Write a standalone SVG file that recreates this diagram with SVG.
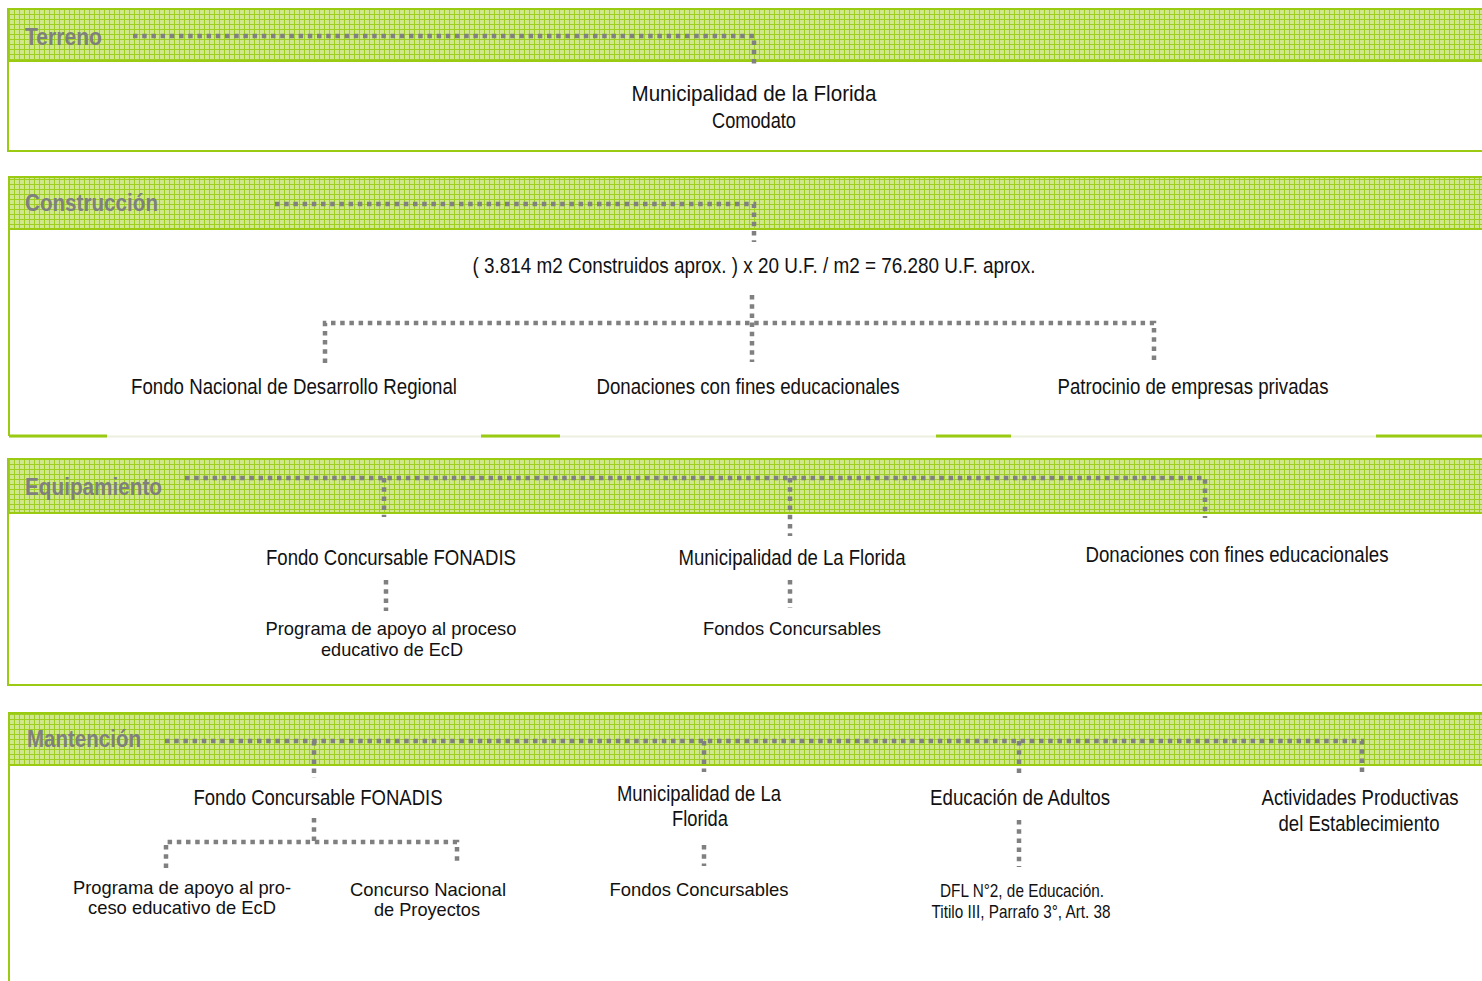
<svg xmlns="http://www.w3.org/2000/svg" width="1482" height="981" viewBox="0 0 1482 981">
<defs>
<pattern id="grid" width="5" height="5" patternUnits="userSpaceOnUse">
<rect width="5" height="5" fill="#d0e78e"/>
<path d="M4.5 0V5M0 4.5H5" stroke="#9fce22" stroke-width="1"/>
</pattern>
<style>
.hdr{fill:url(#grid)}
.ln{fill:none;stroke:#9acb12;stroke-width:2}
.ttl{font-family:"Liberation Sans",Arial,sans-serif;font-weight:bold;font-size:24px;fill:#7f7f7f}
.t{font-family:"Liberation Sans",Arial,sans-serif;font-size:22px;fill:#111;text-anchor:middle}
.s{font-family:"Liberation Sans",Arial,sans-serif;font-size:19px;fill:#111;text-anchor:middle}
.c{fill:none;stroke:#808080;stroke-width:4.5;stroke-dasharray:4.5 4.7}
.g{stroke:#9acb12;stroke-width:3}
</style>
</defs>

<g id="terreno">
<rect class="hdr" x="8" y="9" width="1474" height="52"/>
<path class="ln" d="M1482 9H8V151H1482M8 61H1482"/>
<text class="ttl" x="25" y="45" textLength="77" lengthAdjust="spacingAndGlyphs">Terreno</text>
<text class="t" x="754" y="101" font-size="24" textLength="245" lengthAdjust="spacingAndGlyphs">Municipalidad de la Florida</text>
<text class="t" x="754" y="128" font-size="20" textLength="84" lengthAdjust="spacingAndGlyphs">Comodato</text>
</g>

<g id="construccion">
<rect class="hdr" x="9" y="177" width="1473" height="52"/>
<path class="ln" d="M1482 177H9V436M9 229H1482"/>
<path d="M9 436.5H1482" stroke="#ecf0df" stroke-width="2"/>
<path class="g" d="M9 436H107M481 436H560M936 436H1011M1376 436H1482"/>
<text class="ttl" x="25" y="211" textLength="133" lengthAdjust="spacingAndGlyphs">Construcción</text>
<text class="t" x="754" y="273" textLength="563" lengthAdjust="spacingAndGlyphs">( 3.814 m2 Construidos aprox. ) x 20 U.F. / m2 = 76.280 U.F. aprox.</text>
<text class="t" x="294" y="394" textLength="326" lengthAdjust="spacingAndGlyphs">Fondo Nacional de Desarrollo Regional</text>
<text class="t" x="748" y="394" textLength="303" lengthAdjust="spacingAndGlyphs">Donaciones con fines educacionales</text>
<text class="t" x="1193" y="394" textLength="271" lengthAdjust="spacingAndGlyphs">Patrocinio de empresas privadas</text>
</g>

<g id="equipamiento">
<rect class="hdr" x="8" y="459" width="1474" height="54"/>
<path class="ln" d="M1482 459H8V685H1482M8 513H1482"/>
<text class="ttl" x="25" y="495" textLength="137" lengthAdjust="spacingAndGlyphs">Equipamiento</text>
<text class="t" x="391" y="565" textLength="250" lengthAdjust="spacingAndGlyphs">Fondo Concursable FONADIS</text>
<text class="s" x="391" y="635" textLength="251" lengthAdjust="spacingAndGlyphs">Programa de apoyo al proceso</text>
<text class="s" x="392" y="656" textLength="142" lengthAdjust="spacingAndGlyphs">educativo de EcD</text>
<text class="t" x="792" y="565" textLength="227" lengthAdjust="spacingAndGlyphs">Municipalidad de La Florida</text>
<text class="s" x="792" y="635" textLength="178" lengthAdjust="spacingAndGlyphs">Fondos Concursables</text>
<text class="t" x="1237" y="562" textLength="303" lengthAdjust="spacingAndGlyphs">Donaciones con fines educacionales</text>
</g>

<g id="mantencion">
<rect class="hdr" x="9" y="713" width="1473" height="52"/>
<path class="ln" d="M1482 713H9V981M9 765H1482"/>
<text class="ttl" x="27" y="747" textLength="114" lengthAdjust="spacingAndGlyphs">Mantención</text>
<text class="t" x="318" y="805" textLength="249" lengthAdjust="spacingAndGlyphs">Fondo Concursable FONADIS</text>
<text class="s" x="182" y="894" textLength="218" lengthAdjust="spacingAndGlyphs">Programa de apoyo al pro-</text>
<text class="s" x="182" y="914" textLength="188" lengthAdjust="spacingAndGlyphs">ceso educativo de EcD</text>
<text class="s" x="428" y="896" textLength="156" lengthAdjust="spacingAndGlyphs">Concurso Nacional</text>
<text class="s" x="427" y="916" textLength="106" lengthAdjust="spacingAndGlyphs">de Proyectos</text>
<text class="t" x="699" y="801" textLength="164" lengthAdjust="spacingAndGlyphs">Municipalidad de La</text>
<text class="t" x="700" y="826" textLength="56" lengthAdjust="spacingAndGlyphs">Florida</text>
<text class="s" x="699" y="896" textLength="179" lengthAdjust="spacingAndGlyphs">Fondos Concursables</text>
<text class="t" x="1020" y="805" textLength="180" lengthAdjust="spacingAndGlyphs">Educación de Adultos</text>
<text class="s" x="1022" y="897" font-size="17" textLength="164" lengthAdjust="spacingAndGlyphs">DFL N°2, de Educación.</text>
<text class="s" x="1021" y="918" font-size="17" textLength="179" lengthAdjust="spacingAndGlyphs">Titilo III, Parrafo 3°, Art. 38</text>
<text class="t" x="1360" y="805" font-size="20" textLength="197" lengthAdjust="spacingAndGlyphs">Actividades Productivas</text>
<text class="t" x="1359" y="831" font-size="21" textLength="161" lengthAdjust="spacingAndGlyphs">del Establecimiento</text>
</g>

<g id="connectors">
<path class="c" d="M133 36H754V66"/>
<path class="c" d="M275 204H754V242"/>
<path class="c" d="M752 295V362"/>
<path class="c" d="M325 363V323H1154V360"/>
<path class="c" d="M185 478H1205V518"/>
<path class="c" d="M384 478V517"/>
<path class="c" d="M790 478V536"/>
<path class="c" d="M386 580V611"/>
<path class="c" d="M790 580V608"/>
<path class="c" d="M165 741H1362V772"/>
<path class="c" d="M314 741V778"/>
<path class="c" d="M704 741V772"/>
<path class="c" d="M1019 741V774"/>
<path class="c" d="M314 818V842"/>
<path class="c" d="M166 868V842H457V864"/>
<path class="c" d="M704 845V866"/>
<path class="c" d="M1019 820V867"/>
</g>
</svg>
